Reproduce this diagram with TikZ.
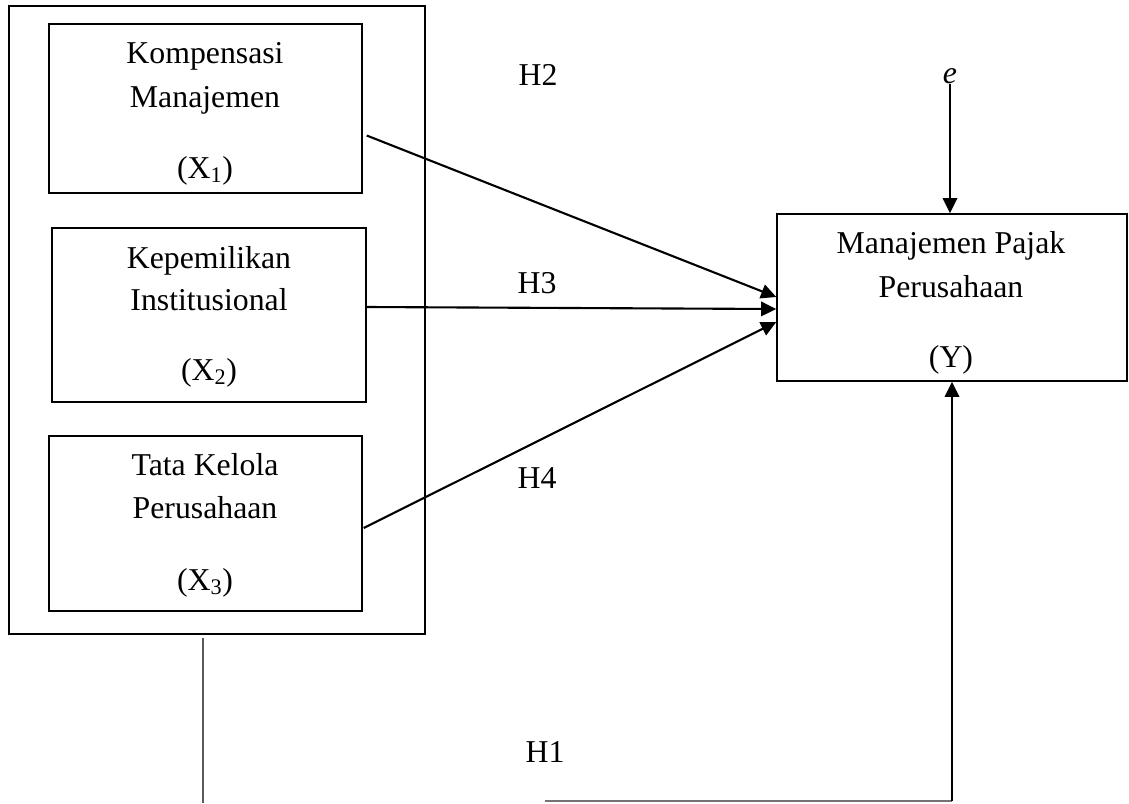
\documentclass[tikz,border=0pt]{standalone}
\usepackage{fontspec}
\setmainfont{Liberation Serif}
\usetikzlibrary{arrows.meta}
\usetikzlibrary{calc}
\tikzset{
	varbox/.style={rectangle, draw=black, line width=1pt, inner sep=0pt, fill=none},
	txt/.style={anchor=base, inner sep=0pt, font=\fontsize{22.6}{27}\selectfont},
	hlabel/.style={inner sep=0pt, font=\fontsize{22.6}{27}\selectfont},
	link/.style={line width=1.5pt, -{Triangle[length=0.38cm, width=0.36cm]}},
	stemline/.style={line width=1pt, draw=black!65}
}

\begin{document}
\begin{tikzpicture}[x=0.025cm, y=-0.025cm]

\def\u{0.025cm}

\useasboundingbox (0,0) rectangle (1129,803);

% variable boxes
\node[varbox, minimum width=416*\u, minimum height=628*\u] (outer) at (217, 320) {};
\node[varbox, minimum width=313*\u, minimum height=169*\u] (x1) at (205.5, 108.5) {};
\node[varbox, minimum width=314*\u, minimum height=174*\u] (x2) at (209, 315) {};
\node[varbox, minimum width=313*\u, minimum height=175*\u] (x3) at (205.5, 523.5) {};
\node[varbox, minimum width=350*\u, minimum height=167*\u] (y) at (952, 297.5) {};

\node[txt] (x1a) at (205, 63)  {Kompensasi};
\node[txt] (x1b) at (205, 107) {Manajemen};
\node[txt] (x1c) at (205, 178) {(X\textsubscript{1})};

\node[txt] (x2a) at (209, 268) {Kepemilikan};
\node[txt] (x2b) at (209, 310) {Institusional};
\node[txt] (x2c) at (209, 380) {(X\textsubscript{2})};

\node[txt] (x3a) at (205, 475) {Tata Kelola};
\node[txt] (x3b) at (205, 518) {Perusahaan};
\node[txt] (x3c) at (205, 590) {(X\textsubscript{3})};

\node[txt] (ya) at (951, 253) {Manajemen Pajak};
\node[txt] (yb) at (951, 297) {Perusahaan};
\node[txt] (yc) at (951, 367) {(Y)};

\node[txt] (e) at (950, 83) {\textit{e}};

\node[hlabel] (h2) at (538, 75)  {H2};
\node[hlabel] (h3) at (537, 283) {H3};
\node[hlabel] (h4) at (537, 478) {H4};
\node[hlabel] (h1) at (545, 752) {H1};

\coordinate (stem) at (203, 803);
\coordinate (bot) at (545, 801);

\draw[link] ($(x1.east)+(4,27)$) -- ($(y.west)+(0,-0.5)$);
\draw[link] ($(x2.east)+(0,-8)$) -- ($(y.west)+(0,11.5)$);
\draw[link] ($(x3.east)+(1,4.5)$) -- ($(y.west)+(0,24.5)$);
\draw[link] (e.south) -- (e.south |- y.north);

\draw[stemline] ($(outer.south)+(-14,3)$) -- (stem);
\draw[line width=1pt, draw=black!55] (bot) -- (bot -| y.south);
\draw[link] (bot -| y.south) -- (y.south);

\end{tikzpicture}
\end{document}
